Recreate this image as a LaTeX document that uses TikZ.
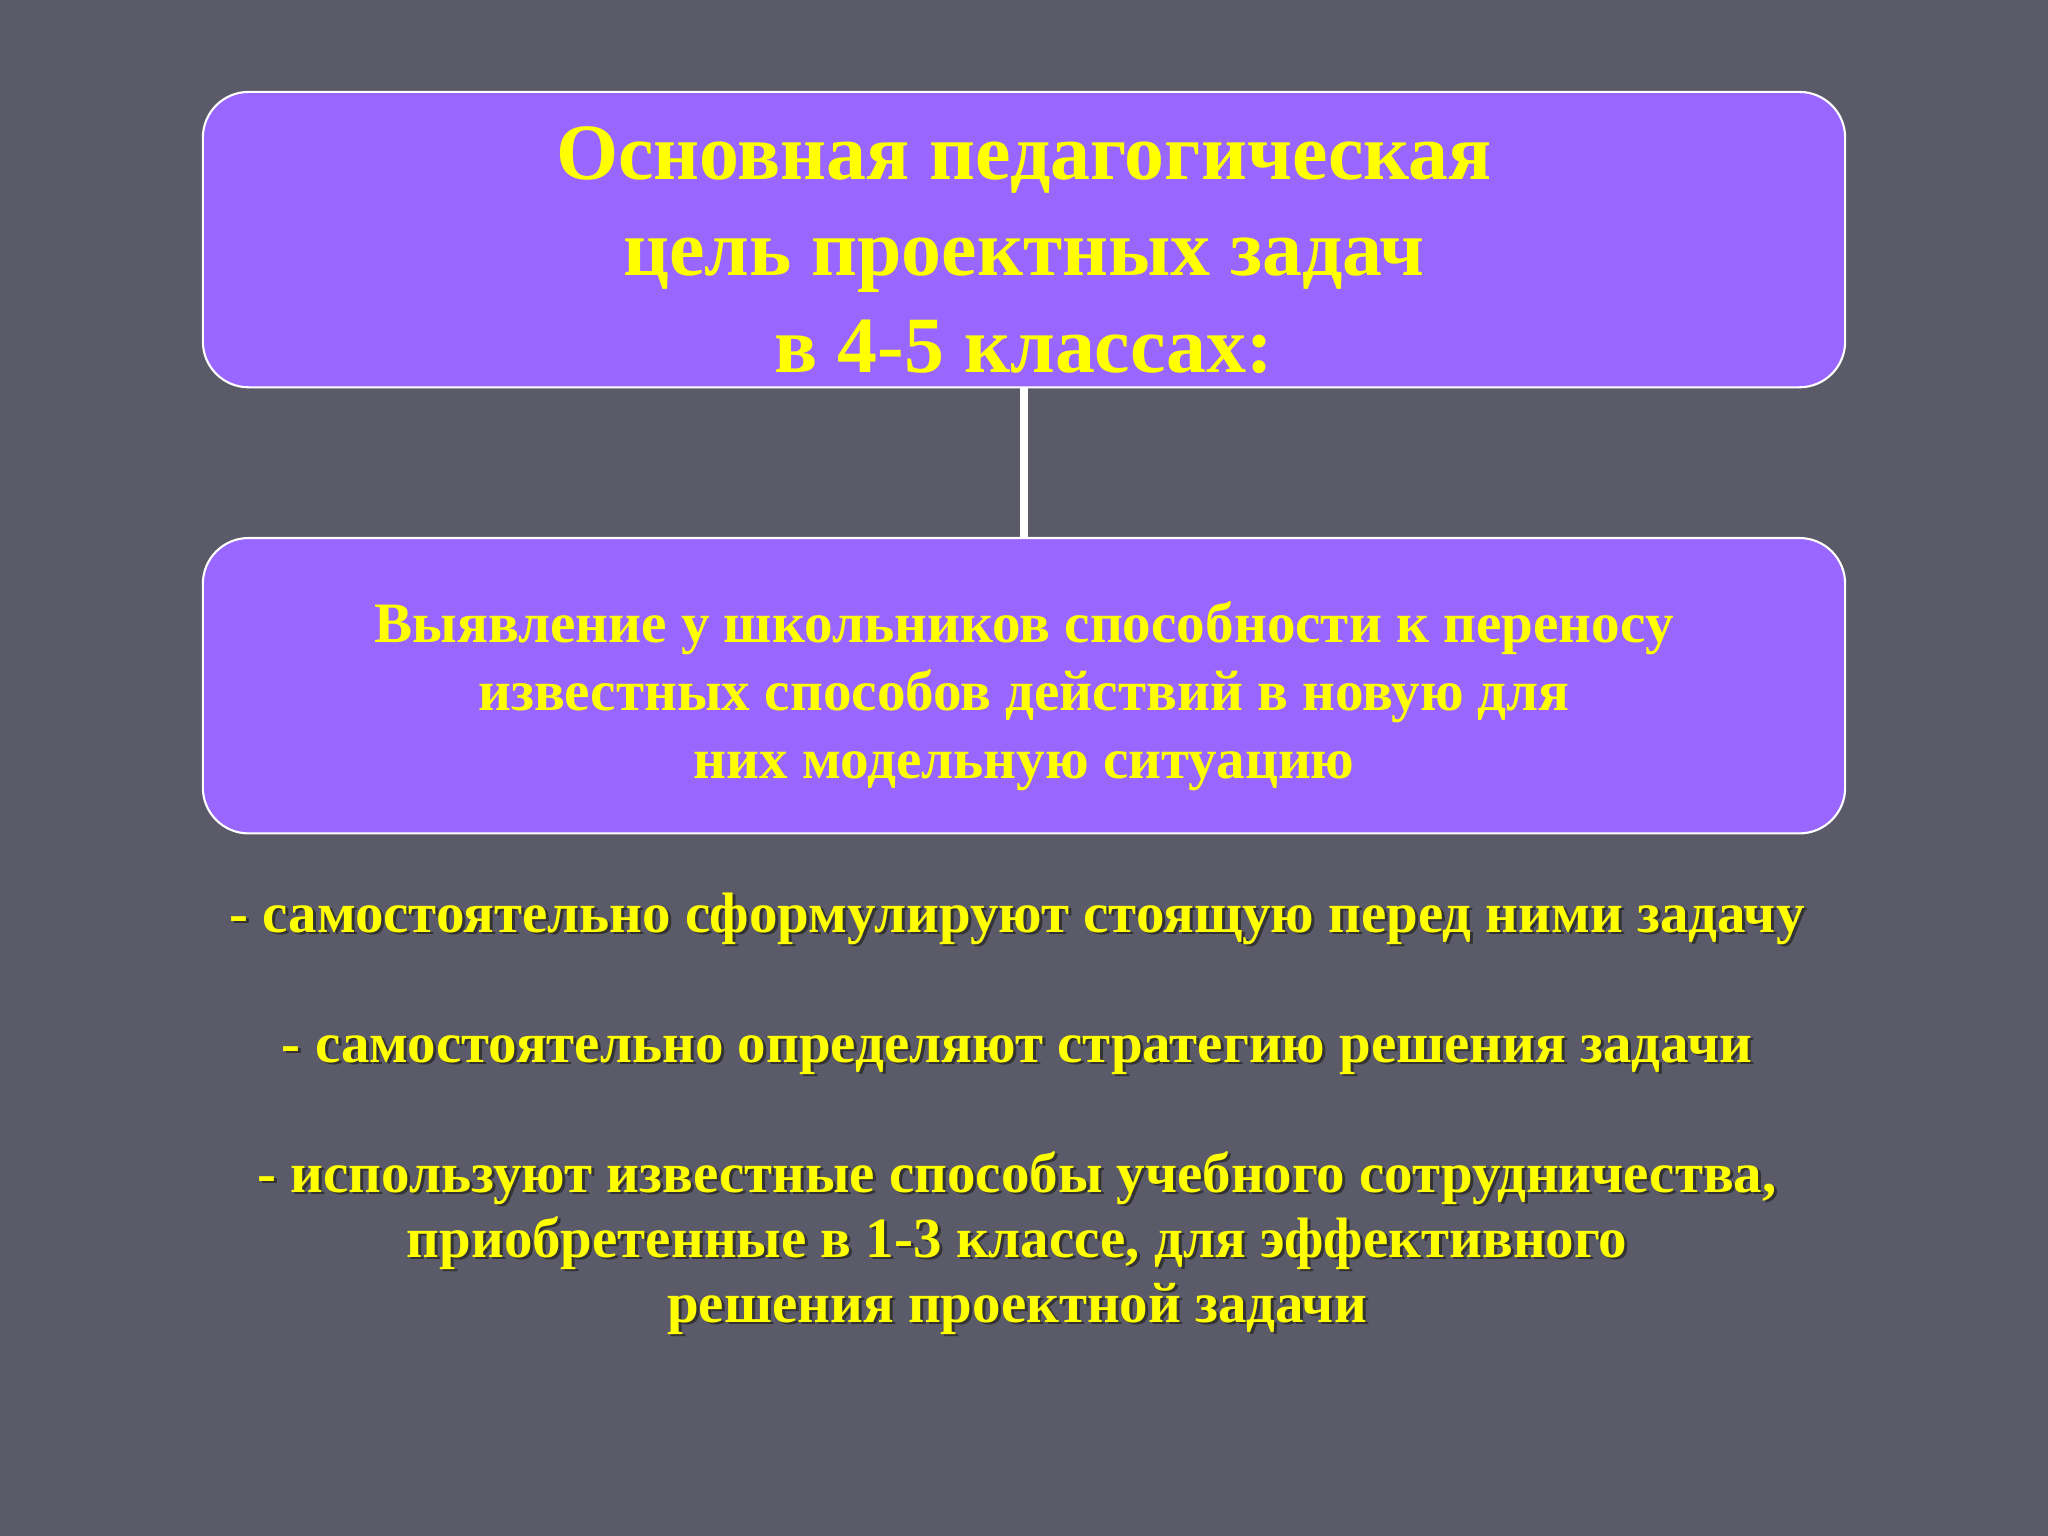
\documentclass[tikz,border=0pt]{standalone}
\usepackage{fontspec}
\setmainfont{Liberation Serif}
\definecolor{slidegray}{HTML}{5A5A68}
\definecolor{boxviolet}{HTML}{9966FF}
\definecolor{textyellow}{HTML}{FFFF00}
\newcommand{\taskslist}{- самостоятельно сформулируют стоящую перед ними задачу\\[18.5pt]
 - самостоятельно определяют стратегию решения задачи\\[18.5pt]
 - используют известные способы учебного сотрудничества,\\
 приобретенные в 1-3 классе, для эффективного\\
 решения проектной задачи}
\begin{document}
\begin{tikzpicture}[x=0.01cm,y=-0.01cm,
	goalbox/.style={draw=white,line width=0.6pt,fill=boxviolet,rounded corners=13pt,
		minimum width=467pt,minimum height=84pt,align=center,text=textyellow,font=\bfseries}]
	\fill[slidegray] (0,0) rectangle (2048,1536);
	\node[goalbox,font=\bfseries\fontsize{22.7}{27.5}\selectfont] (goal) at (1024,239.6)
		{\rule{0pt}{21pt}Основная педагогическая\\ цель проектных задач\\ в 4-5 классах:};
	\node[goalbox,font=\bfseries\fontsize{16.25}{19.3}\selectfont] (aim) at (1024,685.7)
		{\rule{0pt}{17.5pt}Выявление у школьников способности к переносу\\ известных способов действий в новую для\\ них модельную ситуацию};
	\draw[white,line width=2pt] (goal.south) -- (aim.north);
	\node[align=center,text=black!80,font=\bfseries\fontsize{16.2}{18.5}\selectfont] (tasksshadow) at (1020,1116) {\taskslist};
	\node[align=center,text=textyellow,font=\bfseries\fontsize{16.2}{18.5}\selectfont] (tasks) at (1017,1113.6) {\taskslist};
\end{tikzpicture}
\end{document}
